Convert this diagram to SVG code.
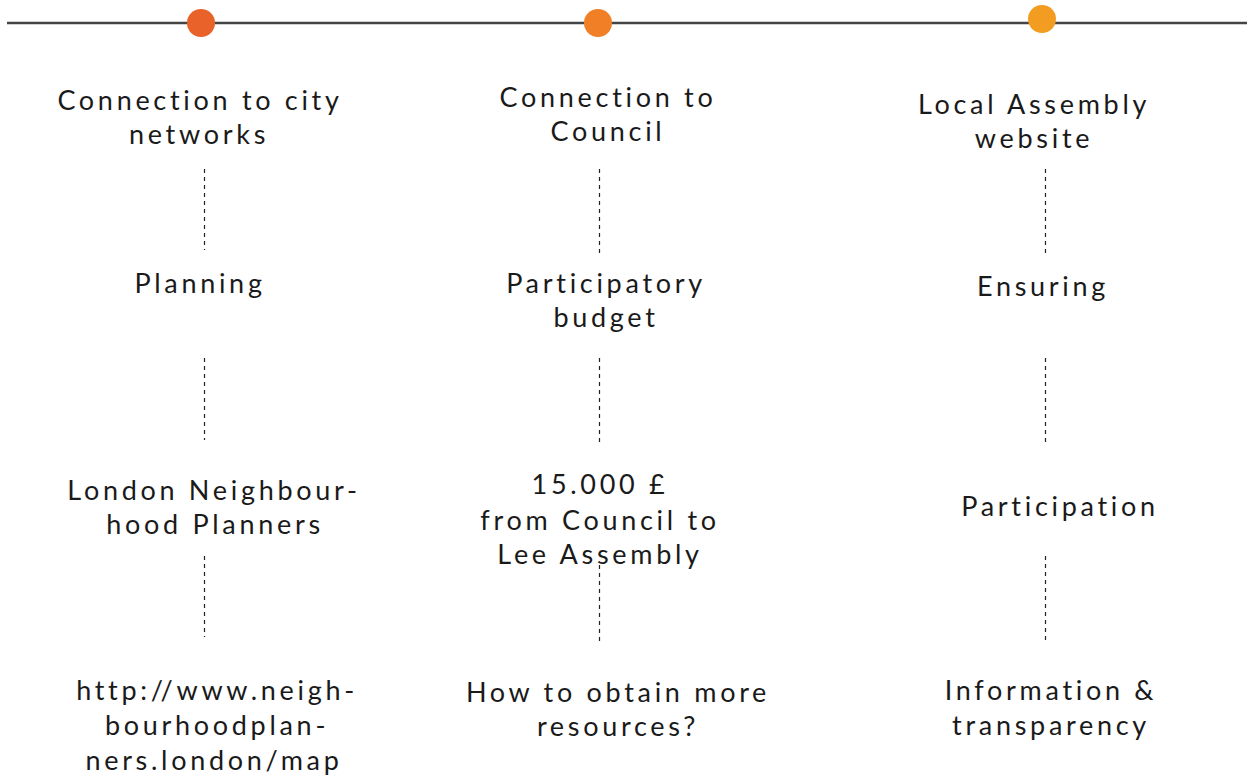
<svg xmlns="http://www.w3.org/2000/svg" width="1256" height="780" viewBox="0 0 1256 780">
<style>
.t{font-family:Lato,"Liberation Sans",sans-serif;font-size:27px;font-weight:400;letter-spacing:3.7px;fill:#1a1a1a;text-anchor:middle}
.d{stroke:#222;stroke-width:1.2;stroke-dasharray:4 4;fill:none}
</style>
<rect width="1256" height="780" fill="#fff"/>
<g id="timeline">
<line x1="7" y1="23" x2="1247" y2="23" stroke="#444" stroke-width="2.5"/>
<circle cx="201" cy="23" r="14" fill="#E8622A"/>
<circle cx="598" cy="23" r="14" fill="#F07F26"/>
<circle cx="1042" cy="19" r="14" fill="#F39C22"/>
</g>
<g id="connectors">
<line class="d" x1="204.5" y1="169" x2="204.5" y2="250"/>
<line class="d" x1="204.5" y1="358" x2="204.5" y2="440"/>
<line class="d" x1="204.5" y1="556" x2="204.5" y2="637"/>
<line class="d" x1="599.5" y1="169" x2="599.5" y2="255"/>
<line class="d" x1="599.5" y1="358" x2="599.5" y2="443"/>
<line class="d" x1="599.5" y1="565" x2="599.5" y2="641"/>
<line class="d" x1="1045.5" y1="169" x2="1045.5" y2="255"/>
<line class="d" x1="1045.5" y1="358" x2="1045.5" y2="443"/>
<line class="d" x1="1045.5" y1="556" x2="1045.5" y2="641"/>
</g>
<g id="n1a"><text class="t" x="200" y="110">Connection to city</text><text class="t" x="199" y="144">networks</text></g>
<g id="n1b"><text class="t" x="200" y="293">Planning</text></g>
<g id="n1c"><text class="t" x="214" y="500">London Neighbour-</text><text class="t" x="215" y="534">hood Planners</text></g>
<g id="n1d"><text class="t" x="217" y="700">http://www.neigh-</text><text class="t" x="217" y="735">bourhoodplan-</text><text class="t" x="214" y="770">ners.london/map</text></g>
<g id="n2a"><text class="t" x="608" y="107">Connection to</text><text class="t" x="608" y="141">Council</text></g>
<g id="n2b"><text class="t" x="606" y="293">Participatory</text><text class="t" x="606" y="327">budget</text></g>
<g id="n2c"><text class="t" x="600" y="494">15.000 £</text><text class="t" x="600" y="530">from Council to</text><text class="t" x="600" y="564">Lee Assembly</text></g>
<g id="n2d"><text class="t" x="618" y="702">How to obtain more</text><text class="t" x="618" y="736">resources?</text></g>
<g id="n3a"><text class="t" x="1034" y="114">Local Assembly</text><text class="t" x="1034" y="148">website</text></g>
<g id="n3b"><text class="t" x="1043" y="296">Ensuring</text></g>
<g id="n3c"><text class="t" x="1060" y="516">Participation</text></g>
<g id="n3d"><text class="t" x="1051" y="700">Information &amp;</text><text class="t" x="1051" y="735">transparency</text></g>
</svg>
